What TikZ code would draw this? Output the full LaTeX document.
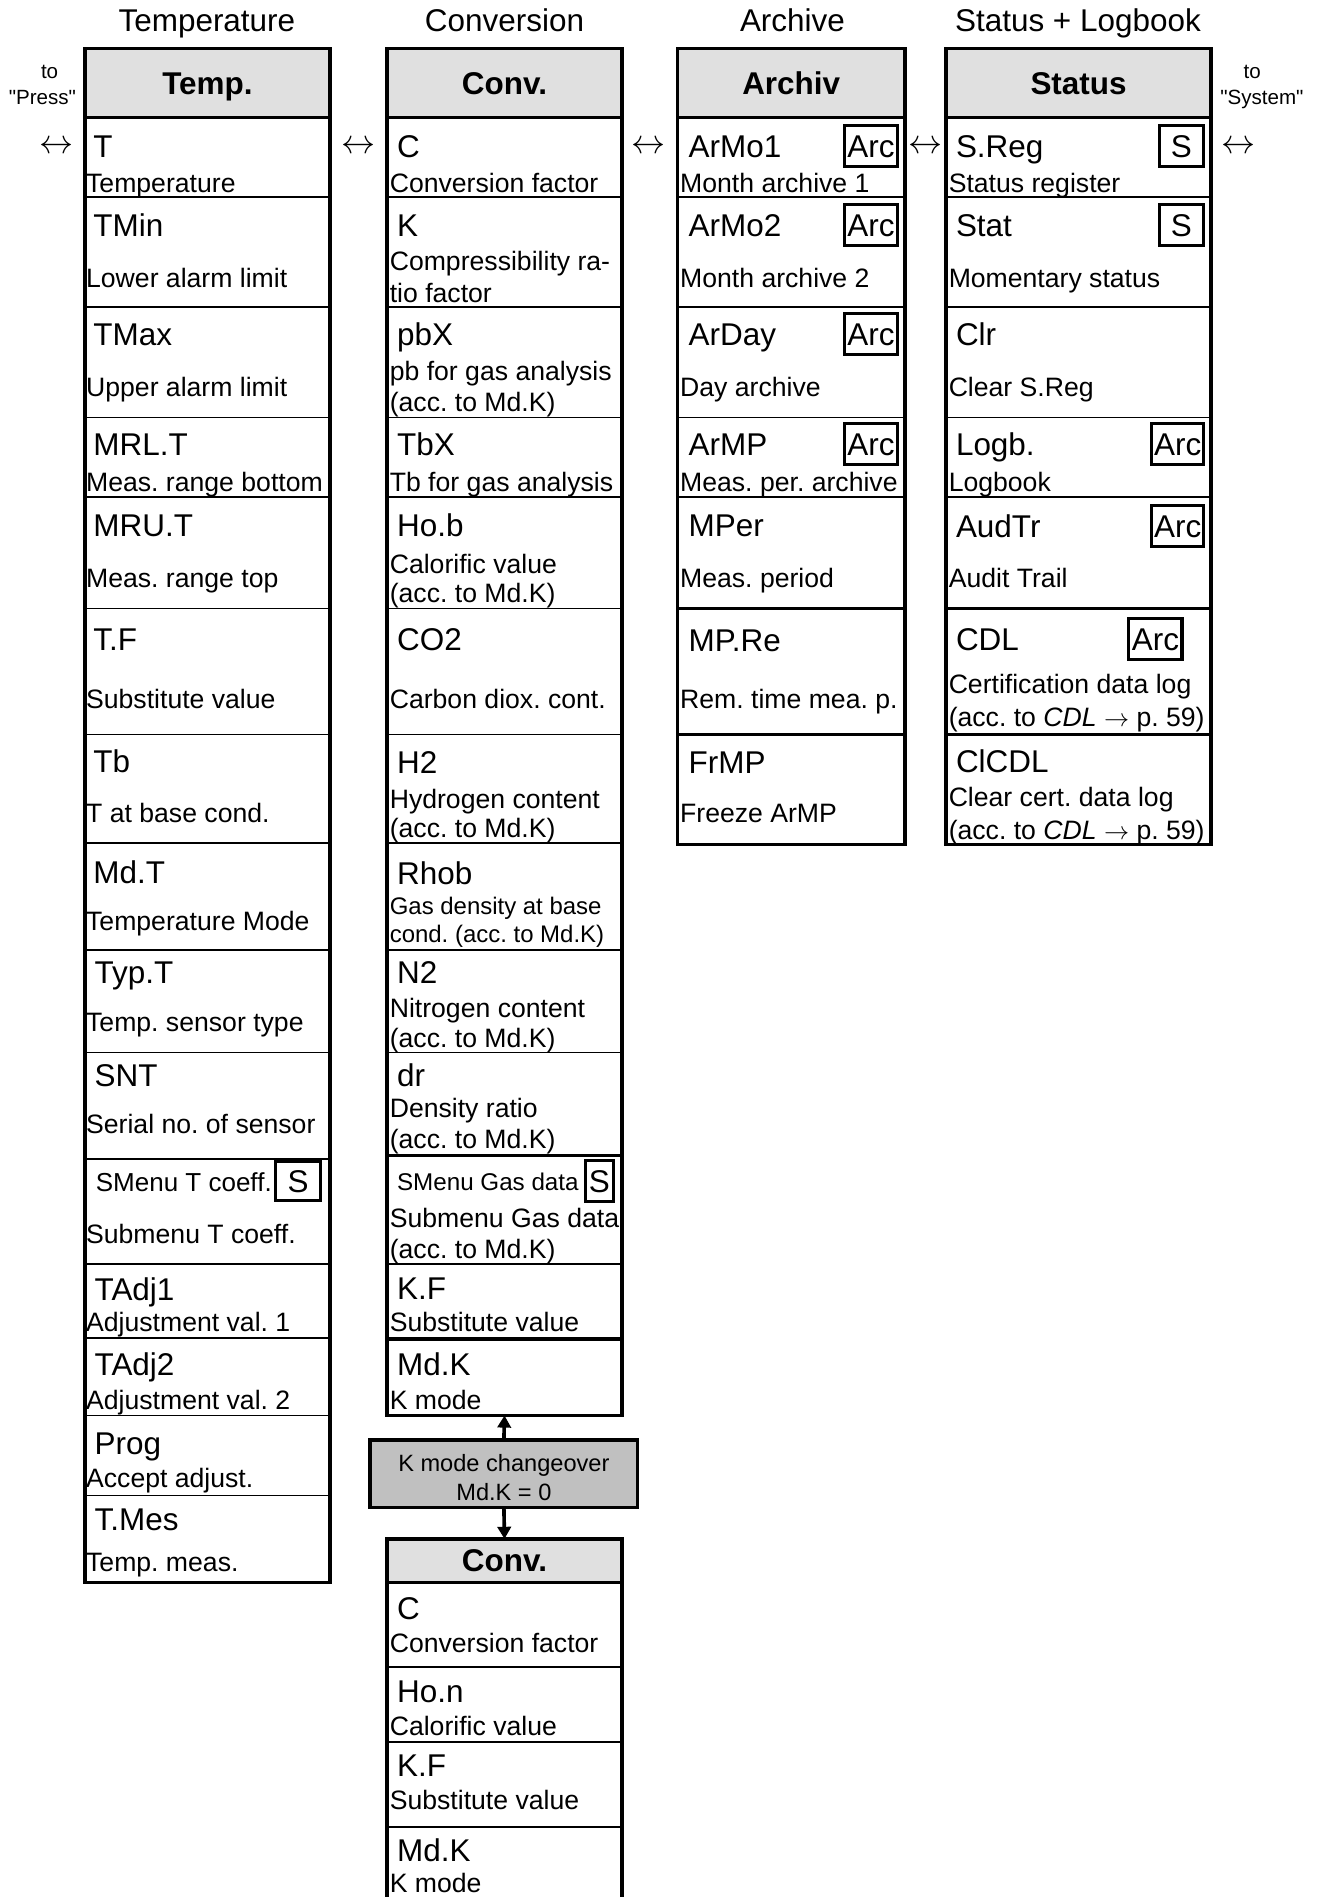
\documentclass[tikz,border=0pt]{standalone}
\usepackage{fontspec}
\newfontfamily\lib{Liberation Sans}
\usetikzlibrary{arrows.meta}
\definecolor{hdrgray}{RGB}{224,224,224}
\definecolor{boxgray}{RGB}{192,192,192}
\newcommand\fsz[1]{\fontsize{#1}{#1}\selectfont\frenchspacing}
\tikzset{
  cellbox/.style={draw, line width=1.4pt, inner sep=0pt, outer sep=0pt, anchor=north west},
  hdr/.style={draw, line width=3pt, fill=hdrgray, inner sep=0pt, outer sep=0pt, anchor=north west,
    font=\lib\fsz{26}\bfseries, text height=18.6pt, text depth=0pt},
  colframe/.style={draw, line width=3pt, inner sep=0pt, outer sep=0pt, anchor=north west},
  nametxt/.style={inner sep=0pt, anchor=west, font=\lib\fsz{26}, text height=18.6pt, text depth=0pt},
  desctxt/.style={inner sep=0pt, anchor=west, font=\lib\fsz{22}, text height=15.8pt, text depth=0pt},
  titletxt/.style={inner sep=0pt, font=\lib\fsz{26}, text height=18.6pt, text depth=0pt},
  smalltxt/.style={inner sep=0pt, font=\lib\fsz{17}, text height=12.2pt, text depth=0pt},
  lrtxt/.style={inner sep=0pt, font=\fsz{24.88}},
  tagbox/.style={draw, line width=2.5pt, inner sep=0pt, outer sep=0pt, font=\lib\fsz{26},
    text height=18.6pt, text depth=0pt, minimum height=34pt},
  thicksep/.style={line width=3pt},
  kbox/.style={draw, line width=3pt, fill=boxgray, inner sep=0pt, outer sep=0pt, anchor=north west,
    align=center, font=\lib\fsz{19.5}},
  updown/.style={line width=3pt, -{Triangle[length=10pt,width=11pt]}},
}
% id, xL, W, ytop, ybot, nameX, nameY, name
\newcommand\prow[8]{%
  \node[cellbox, minimum width=#3pt, minimum height={(#5-#4)*1pt}] (#1) at (#2,#4) {};
  \node[nametxt] (#1-n) at (#6,#7) {#8};}
% id, x, y, text
\newcommand\dsc[4]{\node[desctxt] (#1) at (#2,#3) {#4};}
\newcommand\lrar{\scalebox{1.13}{$\leftrightarrow$}}
\begin{document}
\begin{tikzpicture}[x=1pt,y=-1pt]
\useasboundingbox (0,0) rectangle (1089,1568);

% ---------- titles ----------
\node[titletxt] (ttemp) at (171,17) {Temperature};
\node[titletxt] (tconv) at (417,17) {Conversion};
\node[titletxt] (tarch) at (655,17) {Archive};
\node[titletxt] (tstat) at (891,17) {Status + Logbook};

% ---------- side labels ----------
\node[smalltxt] (toP1) at (41,59) {to};
\node[smalltxt] (toP2) at (35,80) {"Press"};
\node[smalltxt] (toS1) at (1035,59) {to};
\node[smalltxt] (toS2) at (1043,80) {"System"};
\node[lrtxt] (lr0) at (47,122) {\lrar};
\node[lrtxt] (lr1) at (296,122) {\lrar};
\node[lrtxt] (lr2) at (536,122) {\lrar};
\node[lrtxt] (lr3) at (765,122) {\lrar};
\node[lrtxt] (lr4) at (1024,122) {\lrar};

% ---------- Temperature column ----------
\prow{t1}{70}{203}{97}{163}{77}{121}{T}
\dsc{t1d}{71}{151}{Temperature}
\prow{t2}{70}{203}{163}{254}{77}{186}{TMin}
\dsc{t2d}{71}{230}{Lower alarm limit}
\prow{t3}{70}{203}{254}{345}{77}{276}{TMax}
\dsc{t3d}{71}{320}{Upper alarm limit}
\prow{t4}{70}{203}{345}{411}{77}{367}{MRL.T}
\dsc{t4d}{71}{398}{Meas. range bottom}
\prow{t5}{70}{203}{411}{503}{77}{434}{MRU.T}
\dsc{t5d}{71}{478}{Meas. range top}
\prow{t6}{70}{203}{503}{607}{77}{528}{T.F}
\dsc{t6d}{71}{578}{Substitute value}
\prow{t7}{70}{203}{607}{697}{77}{629}{Tb}
\dsc{t7d}{71}{672}{T at base cond.}
\prow{t8}{70}{203}{697}{785}{77}{721}{Md.T}
\dsc{t8d}{71}{761}{Temperature Mode}
\prow{t9}{70}{203}{785}{870}{78}{804}{Typ.T}
\dsc{t9d}{71}{845}{Temp. sensor type}
\prow{t10}{70}{203}{870}{958}{78}{889}{SNT}
\dsc{t10d}{71}{929}{Serial no. of sensor}
\node[cellbox, minimum width=203pt, minimum height=87pt] (t11) at (70,958) {};
\node[nametxt, font=\lib\fsz{21.5}, text height=15.4pt] (t11-n) at (79,977) {SMenu T coeff.};
\node[tagbox, minimum width=37pt, minimum height=32pt] (t11-s) at (246.5,976) {S};
\dsc{t11d}{71}{1020}{Submenu T coeff.}
\prow{t12}{70}{203}{1045}{1106}{78}{1066}{TAdj1}
\dsc{t12d}{71}{1093}{Adjustment val. 1}
\prow{t13}{70}{203}{1106}{1170}{78}{1128}{TAdj2}
\dsc{t13d}{71}{1157}{Adjustment val. 2}
\prow{t14}{70}{203}{1170}{1236}{78}{1193}{Prog}
\dsc{t14d}{71}{1222}{Accept adjust.}
\prow{t15}{70}{203}{1236}{1308}{78}{1256}{T.Mes}
\dsc{t15d}{71}{1291}{Temp. meas.}
\node[hdr, minimum width=203pt, minimum height=57pt] (temphdr) at (70,40) {Temp.};
\node[colframe, minimum width=203pt, minimum height=1268pt] (tempcol) at (70,40) {};

% ---------- Conversion column ----------
\prow{c1}{320}{194}{97}{163}{328}{121}{C}
\dsc{c1d}{322}{151}{Conversion factor}
\prow{c2}{320}{194}{163}{254}{328}{186}{K}
\dsc{c2d}{322}{216}{Compressibility ra-}
\dsc{c2e}{322}{242}{tio factor}
\prow{c3}{320}{194}{254}{345}{328}{276}{pbX}
\dsc{c3d}{322}{307}{pb for gas analysis}
\dsc{c3e}{322}{332}{(acc. to Md.K)}
\prow{c4}{320}{194}{345}{411}{328}{367}{TbX}
\dsc{c4d}{322}{398}{Tb for gas analysis}
\prow{c5}{320}{194}{411}{503}{328}{434}{Ho.b}
\dsc{c5d}{322}{466}{Calorific value}
\dsc{c5e}{322}{490}{(acc. to Md.K)}
\prow{c6}{320}{194}{503}{607}{328}{528}{CO2}
\dsc{c6d}{322}{578}{Carbon diox. cont.}
\prow{c7}{320}{194}{607}{697}{328}{630}{H2}
\dsc{c7d}{322}{660}{Hydrogen content}
\dsc{c7e}{322}{684}{(acc. to Md.K)}
\prow{c8}{320}{194}{697}{785}{328}{722}{Rhob}
\node[desctxt, font=\lib\fsz{19.8}, text height=14.2pt] (c8d) at (322,749) {Gas density at base};
\node[desctxt, font=\lib\fsz{19.8}, text height=14.2pt] (c8e) at (322,772) {cond. (acc. to Md.K)};
\prow{c9}{320}{194}{785}{870}{328}{804}{N2}
\dsc{c9d}{322}{833}{Nitrogen content}
\dsc{c9e}{322}{858}{(acc. to Md.K)}
\prow{c10}{320}{194}{870}{955}{328}{889}{dr}
\dsc{c10d}{322}{916}{Density ratio}
\dsc{c10e}{322}{941}{(acc. to Md.K)}
\node[cellbox, minimum width=194pt, minimum height=90pt] (c11) at (320,955) {};
\node[nametxt, font=\lib\fsz{20}, text height=14.3pt] (c11-n) at (328,977) {SMenu Gas data};
\node[tagbox, minimum width=23pt] (c11-s) at (495.5,976) {S};
\dsc{c11d}{322}{1007}{Submenu Gas data}
\dsc{c11e}{322}{1032}{(acc. to Md.K)}
\prow{c12}{320}{194}{1045}{1107}{328}{1065}{K.F}
\dsc{c12d}{322}{1093}{Substitute value}
\prow{cmdk}{320}{194}{1107}{1170}{328}{1128}{Md.K}
\dsc{cmdkd}{322}{1157}{K mode}
\draw[line width=2.5pt] (c11.north west) -- (c11.north east);
\draw[line width=2pt] (c12.north west) -- (c12.north east);
\draw[thicksep] (cmdk.north west) -- (cmdk.north east);
\node[hdr, minimum width=194pt, minimum height=57pt] (convhdr) at (320,40) {Conv.};
\node[colframe, minimum width=194pt, minimum height=1130pt] (convcol) at (320,40) {};

% ---------- K mode changeover ----------
\node[kbox, minimum width=221pt, minimum height=56pt] (kbox) at (306,1190)
  {\rule{0pt}{20pt}K mode changeover\\[4.5pt]Md.K = 0};
\draw[updown] (kbox.north) -- (cmdk.south);

% ---------- lower Conversion column ----------
\prow{l1}{320}{194}{1308}{1378}{328}{1329}{C}
\dsc{l1d}{322}{1358}{Conversion factor}
\prow{l2}{320}{194}{1378}{1440}{328}{1398}{Ho.n}
\dsc{l2d}{322}{1427}{Calorific value}
\prow{l3}{320}{194}{1440}{1510}{328}{1459}{K.F}
\dsc{l3d}{322}{1488}{Substitute value}
\prow{l4}{320}{194}{1510}{1600}{328}{1529}{Md.K}
\dsc{l4d}{322}{1556}{K mode}
\node[hdr, minimum width=194pt, minimum height=36pt] (lchdr) at (320,1272) {Conv.};
\node[colframe, minimum width=194pt, minimum height=328pt] (lccol) at (320,1272) {};
\draw[updown] (kbox.south) -- (lchdr.north);

% ---------- Archive column ----------
\prow{a1}{560}{188}{97}{163}{569}{121}{ArMo1}
\node[tagbox, minimum width=44pt] (a1-s) at (720,121) {Arc};
\dsc{a1d}{562}{151}{Month archive 1}
\prow{a2}{560}{188}{163}{254}{569}{186}{ArMo2}
\node[tagbox, minimum width=44pt] (a2-s) at (720,186) {Arc};
\dsc{a2d}{562}{230}{Month archive 2}
\prow{a3}{560}{188}{254}{345}{569}{276}{ArDay}
\node[tagbox, minimum width=44pt] (a3-s) at (720,276) {Arc};
\dsc{a3d}{562}{320}{Day archive}
\prow{a4}{560}{188}{345}{411}{569}{367}{ArMP}
\node[tagbox, minimum width=44pt] (a4-s) at (720,367) {Arc};
\dsc{a4d}{562}{398}{Meas. per. archive}
\prow{a5}{560}{188}{411}{503}{569}{434}{MPer}
\dsc{a5d}{562}{478}{Meas. period}
\prow{a6}{560}{188}{503}{607}{569}{529}{MP.Re}
\dsc{a6d}{562}{578}{Rem. time mea. p.}
\prow{a7}{560}{188}{607}{698}{569}{630}{FrMP}
\dsc{a7d}{562}{672}{Freeze ArMP}
\draw[thicksep] (a6.north west) -- (a6.north east);
\draw[thicksep] (a7.north west) -- (a7.north east);
\node[hdr, minimum width=188pt, minimum height=57pt] (archdr) at (560,40) {Archiv};
\node[colframe, minimum width=188pt, minimum height=658pt] (arccol) at (560,40) {};

% ---------- Status column ----------
\prow{s1}{782}{219}{97}{163}{790}{121}{S.Reg}
\node[tagbox, minimum width=37pt] (s1-s) at (976.5,121) {S};
\dsc{s1d}{784}{151}{Status register}
\prow{s2}{782}{219}{163}{254}{790}{186}{Stat}
\node[tagbox, minimum width=37pt] (s2-s) at (976.5,186) {S};
\dsc{s2d}{784}{230}{Momentary status}
\prow{s3}{782}{219}{254}{345}{790}{276}{Clr}
\dsc{s3d}{784}{320}{Clear S.Reg}
\prow{s4}{782}{219}{345}{411}{790}{367}{Logb.}
\node[tagbox, minimum width=43pt] (s4-s) at (973.5,367) {Arc};
\dsc{s4d}{784}{398}{Logbook}
\prow{s5}{782}{219}{411}{503}{790}{435}{AudTr}
\node[tagbox, minimum width=43pt] (s5-s) at (973.5,435) {Arc};
\dsc{s5d}{784}{478}{Audit Trail}
\prow{s6}{782}{219}{503}{607}{790}{528}{CDL}
\node[tagbox, minimum width=44pt] (s6-s) at (955,528) {Arc};
\dsc{s6d}{784}{565}{Certification data log}
\dsc{s6e}{784}{593}{(acc. to \textit{CDL} $\rightarrow$ p. 59)}
\prow{s7}{782}{219}{607}{698}{790}{629}{ClCDL}
\dsc{s7d}{784}{659}{Clear cert. data log}
\dsc{s7e}{784}{686}{(acc. to \textit{CDL} $\rightarrow$ p. 59)}
\draw[thicksep] (s6.north west) -- (s6.north east);
\draw[thicksep] (s7.north west) -- (s7.north east);
\node[hdr, minimum width=219pt, minimum height=57pt] (stathdr) at (782,40) {Status};
\node[colframe, minimum width=219pt, minimum height=658pt] (statcol) at (782,40) {};
\end{tikzpicture}
\end{document}
